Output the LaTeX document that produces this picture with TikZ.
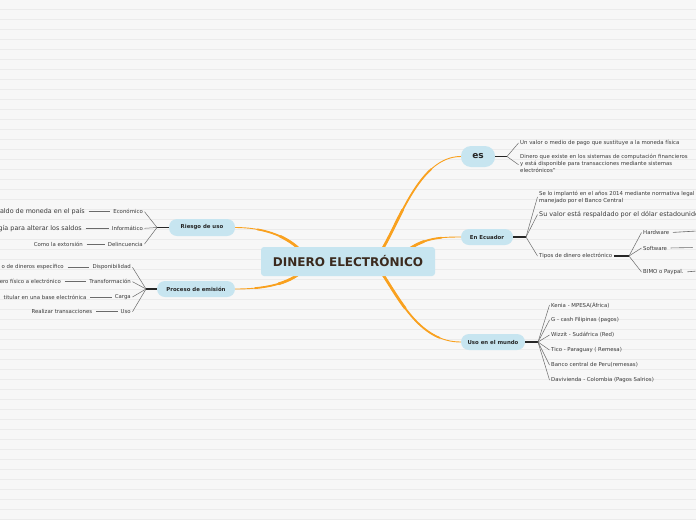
\documentclass[tikz,border=0pt]{standalone}
\usepackage{fontspec}
\setmainfont{DejaVu Sans}
\definecolor{bgc}{HTML}{F7F7F7}
\definecolor{rulec}{HTML}{EBEBEB}
\definecolor{pill}{HTML}{C7E5F0}
\definecolor{orng}{HTML}{F9A11F}
\definecolor{txt}{HTML}{3A3A3A}
\definecolor{titlec}{HTML}{3B2A1E}
\definecolor{fanc}{HTML}{6A6A6A}
\pgfdeclarelayer{bg}
\pgfdeclarelayer{edges}
\pgfsetlayers{bg,edges,main}
\tikzset{
  mainbox/.style={fill=pill, rounded corners=3pt, minimum width=174pt, minimum height=29pt,
    font=\fontsize{12}{13}\selectfont\bfseries, text=titlec, inner sep=0pt},
  branch/.style={fill=pill, rounded corners=8pt, font=\fontsize{5.4}{6}\selectfont\bfseries,
    text=black!85, inner sep=0pt, minimum height=16pt},
  leaf/.style={font=\fontsize{5.4}{7}\selectfont, text=txt, inner sep=1.5pt},
  bigleaf/.style={font=\fontsize{6.4}{7.5}\selectfont, text=txt, inner sep=1.5pt},
  fanline/.style={draw=fanc, line width=0.5pt},
  stem/.style={draw=black!85, line width=1.4pt},
  hline/.style={draw=fanc, line width=0.6pt, shorten <=2pt, shorten >=1.5pt},
  obranch/.style 2 args={draw=orng, line width=0.9pt, line cap=round,
    postaction={draw=orng, line width=1.8pt, line cap=round, dash pattern=on #2 off 2000pt},
    postaction={draw=orng, line width=2.7pt, line cap=round, dash pattern=on #1 off 2000pt}},
}
\begin{document}
\begin{tikzpicture}[x=1pt,y=-1pt]
\useasboundingbox (0,0) rectangle (696,520);
\begin{pgfonlayer}{bg}
  \fill[bgc] (0,0) rectangle (696,520);
  \foreach \k in {0,...,51} \draw[rulec, line width=0.7pt] (0,{9.5+10*\k}) -- (696,{9.5+10*\k});
\end{pgfonlayer}
\clip (0,0) rectangle (696,520);

% central and branch nodes
\node[mainbox] (c) at (348,261.5) {DINERO ELECTRÓNICO};
\node[branch, minimum width=34pt, minimum height=21pt, rounded corners=10pt,
      font=\fontsize{9}{10}\selectfont\bfseries] (es) at (478,156.5) {es};
\node[branch, minimum width=52pt] (ec) at (487,237) {En Ecuador};
\node[branch, minimum width=64pt] (uso) at (493,342) {Uso en el mundo};
\node[branch, minimum width=66pt, minimum height=17pt] (ri) at (202,227.5) {Riesgo de uso};
\node[branch, minimum width=78pt] (pe) at (196,289) {Proceso de emisión};

% orange connectors
\begin{pgfonlayer}{edges}
  \draw[obranch={45pt}{95pt}] ([xshift=34pt,yshift=-3pt]c.north) .. controls (400,220) and (420,156.5) .. (es.west);
  \draw[obranch={18pt}{36pt}] ([xshift=60pt,yshift=-3pt]c.north) .. controls (425,238) and (440,237) .. (ec.west);
  \draw[obranch={42pt}{88pt}] ([xshift=34pt,yshift=3pt]c.south) .. controls (400,300) and (420,342) .. (uso.west);
  \draw[obranch={24pt}{48pt}] ([xshift=-48pt,yshift=-3pt]c.north) .. controls (285,235) and (262,227.5) .. (ri.east);
  \draw[obranch={24pt}{48pt}] ([xshift=-48pt,yshift=3pt]c.south) .. controls (285,285) and (262,289) .. (pe.east);
\end{pgfonlayer}

% ---- es
\coordinate (es-f) at (507,156.5);
\draw[stem] (es.east) -- (es-f);
\node[leaf, anchor=west] (es1) at (518.5,143) {Un valor o medio de pago que sustituye a la moneda física};
\node[leaf, anchor=north west, align=left] (es2) at (518.5,152.8) {Dinero que existe en los sistemas de computación financieros\\y está disponible para transacciones mediante sistemas\\electrónicos"};
\draw[fanline] (es-f) -- (es1.west);
\draw[fanline] (es-f) -- ([yshift=-1pt]es2.west);

% ---- En Ecuador
\coordinate (ec-f) at (526,237);
\draw[stem] (ec.east) -- (ec-f);
\node[leaf, anchor=north west, align=left] (ec1) at (537.5,189) {Se lo implantó en el años 2014 mediante normativa legal\\manejado por el Banco Central};
\node[bigleaf, anchor=west] (ec2) at (537.5,214.5) {Su valor está respaldado por el dólar estadounidense};
\node[leaf, anchor=west] (ec3) at (537.5,256) {Tipos de dinero electrónico};
\draw[fanline] (ec-f) -- (ec1.west);
\draw[fanline] (ec-f) -- (ec2.west);
\draw[fanline] (ec-f) -- (ec3.west);
\coordinate (ec3-f) at (629,256);
\draw[stem] (ec3.east) -- (ec3-f);
\node[leaf, anchor=west] (hw) at (641.5,232.5) {Hardware};
\node[leaf, anchor=west] (sw) at (641.5,248) {Software};
\node[leaf, anchor=west] (bm) at (641.5,272) {BIMO o Paypal.};
\draw[fanline] (ec3-f) -- (hw.west);
\draw[fanline] (ec3-f) -- (sw.west);
\draw[fanline] (ec3-f) -- (bm.west);
\coordinate (hw-x) at (697,231);
\coordinate (sw-x) at (694,247.5);
\coordinate (bm-x) at (697,271);
\draw[hline] (hw.east) -- (hw-x);
\draw[hline] (sw.east) -- (sw-x);
\draw[hline] (bm.east) -- (bm-x);

% ---- Uso en el mundo
\coordinate (uso-f) at (538,342);
\draw[stem] (uso.east) -- (uso-f);
\node[leaf, anchor=west] (u1) at (549.5,305) {Kenia - MPESA(África)};
\node[leaf, anchor=west] (u2) at (549.5,320) {G - cash Filipinas (pagos)};
\node[leaf, anchor=west] (u3) at (549.5,335) {Wizzit - Sudáfrica (Red)};
\node[leaf, anchor=west] (u4) at (549.5,350) {Tico - Paraguay ( Remesa)};
\node[leaf, anchor=west] (u5) at (549.5,365) {Banco central de Peru(remesas)};
\node[leaf, anchor=west] (u6) at (549.5,380) {Davivienda - Colombia (Pagos Salrios)};
\foreach \n in {u1,u2,u3,u4,u5,u6} \draw[fanline] (uso-f) -- (\n.west);

% ---- Riesgo de uso
\coordinate (ri-f) at (157,227.5);
\draw[stem] (ri.west) -- (ri-f);
\node[leaf, anchor=east] (r1) at (144.5,211.7) {Económico};
\node[leaf, anchor=east] (r2) at (144.5,228.3) {Informático};
\node[leaf, anchor=east] (r3) at (144.5,244) {Delincuencia};
\draw[fanline] (ri-f) -- (r1.east);
\draw[fanline] (ri-f) -- (r2.east);
\draw[fanline] (ri-f) -- (r3.east);
\node[bigleaf, anchor=east] (r1a) at (86.5,211.7) {aldo de moneda en el país};
\node[bigleaf, anchor=east] (r2a) at (83.5,228.3) {gía para alterar los saldos};
\node[leaf, anchor=east] (r3a) at (84.5,244) {Como la extorsión};
\draw[hline] (r1a.east) -- (r1.west);
\draw[hline] (r2a.east) -- (r2.west);
\draw[hline] (r3a.east) -- (r3.west);

% ---- Proceso de emision
\coordinate (pe-f) at (146,289);
\draw[stem] (pe.west) -- (pe-f);
\node[leaf, anchor=east] (p1) at (132.5,267.3) {Disponibilidad};
\node[leaf, anchor=east] (p2) at (132.5,281.7) {Transformación};
\node[leaf, anchor=east] (p3) at (132.5,297) {Carga};
\node[leaf, anchor=east] (p4) at (132.5,311.7) {Uso};
\foreach \n in {p1,p2,p3,p4} \draw[fanline] (pe-f) -- (\n.east);
\node[leaf, anchor=east] (p1a) at (65.5,267.3) {o de dineros específico};
\node[leaf, anchor=east] (p2a) at (62.5,281.7) {ero físico a electrónico};
\node[leaf, anchor=east] (p3a) at (88,297) {titular en una base electrónica};
\node[leaf, anchor=east] (p4a) at (94,311.7) {Realizar transacciones};
\draw[hline] (p1a.east) -- (p1.west);
\draw[hline] (p2a.east) -- (p2.west);
\draw[hline] (p3a.east) -- (p3.west);
\draw[hline] (p4a.east) -- (p4.west);
\end{tikzpicture}
\end{document}
